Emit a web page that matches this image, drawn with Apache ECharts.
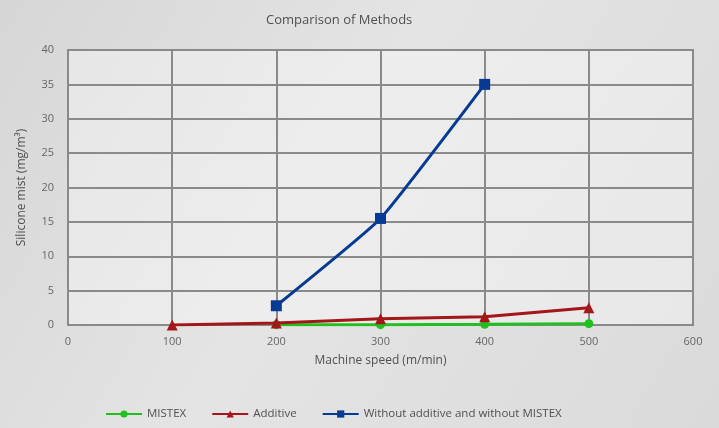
<!DOCTYPE html>
<html><head><meta charset="utf-8">
<script src="https://cdn.jsdelivr.net/npm/echarts@6/dist/echarts.min.js"></script>
<style>html,body{margin:0;padding:0;}#c{width:719px;height:428px;}</style>
</head><body><div id="c"></div>
<script>
const xTicks = [0, 100, 200, 300, 400, 500, 600];
const mistex = [[200, 0.05], [300, 0.05], [400, 0.1], [500, 0.2]];
const additive = [[100, 0], [200, 0.3], [300, 0.9], [400, 1.2], [500, 2.5]];
const without = [[200, 2.8], [300, 15.5], [400, 35]];
const seriesNames = ['MISTEX', 'Additive', 'Without additive and without MISTEX'];

const chart = echarts.init(document.getElementById('c'));
const font = 'Open Sans';
chart.setOption({
  backgroundColor: {
    type: 'linear', x: 0, y: 0, x2: 1, y2: 1,
    colorStops: [{offset: 0, color: '#d6d6d6'}, {offset: 0.45, color: '#e4e4e4'}, {offset: 1, color: '#dadada'}]
  },
  animation: false,
  title: {
    text: 'Comparison of Methods', left: 261, top: 9,
    textStyle: {fontFamily: font, fontSize: 13, fontWeight: 'normal', color: '#505050'}
  },
  legend: {
    bottom: 3, left: 100, itemWidth: 36, itemHeight: 9, itemGap: 25,
    textStyle: {fontFamily: font, fontSize: 11.5, color: '#505050'},
    data: seriesNames
  },
  grid: {left: 68, right: 26, top: 50, bottom: 103, show: true,
    backgroundColor: 'rgba(255,255,255,0.35)', borderColor: '#8a8a8a', borderWidth: 2},
  xAxis: {
    type: 'value', min: 0, max: 600, interval: 100,
    name: 'Machine speed (m/min)', nameLocation: 'middle', nameGap: 30,
    nameTextStyle: {fontFamily: font, fontSize: 12, color: '#505050'},
    axisLine: {show: false}, axisTick: {show: false},
    axisLabel: {fontFamily: font, fontSize: 11, color: '#666', margin: 11},
    splitLine: {lineStyle: {color: '#8a8a8a', width: 2}}
  },
  yAxis: {
    type: 'value', min: 0, max: 40, interval: 5,
    name: 'Silicone mist (mg/m³)', nameLocation: 'middle', nameGap: 40,
    nameTextStyle: {fontFamily: font, fontSize: 12, color: '#505050'},
    axisLine: {show: false}, axisTick: {show: false},
    axisLabel: {fontFamily: font, fontSize: 11, color: '#666', margin: 14},
    splitLine: {lineStyle: {color: '#8a8a8a', width: 2}}
  },
  series: [
    {name: seriesNames[0], type: 'line', data: mistex, symbol: 'circle', symbolSize: 9,
      itemStyle: {color: '#22c01e'}, lineStyle: {width: 3, color: '#22c01e'}, z: 3},
    {name: seriesNames[1], type: 'line', data: additive, symbol: 'triangle', symbolSize: 11,
      itemStyle: {color: '#a3161a'}, lineStyle: {width: 3, color: '#a3161a'}, z: 4},
    {name: seriesNames[2], type: 'line', data: without, symbol: 'rect', symbolSize: 11, smooth: 0.12,
      itemStyle: {color: '#073a94'}, lineStyle: {width: 3, color: '#073a94'}, z: 5}
  ]
});
</script></body></html>
